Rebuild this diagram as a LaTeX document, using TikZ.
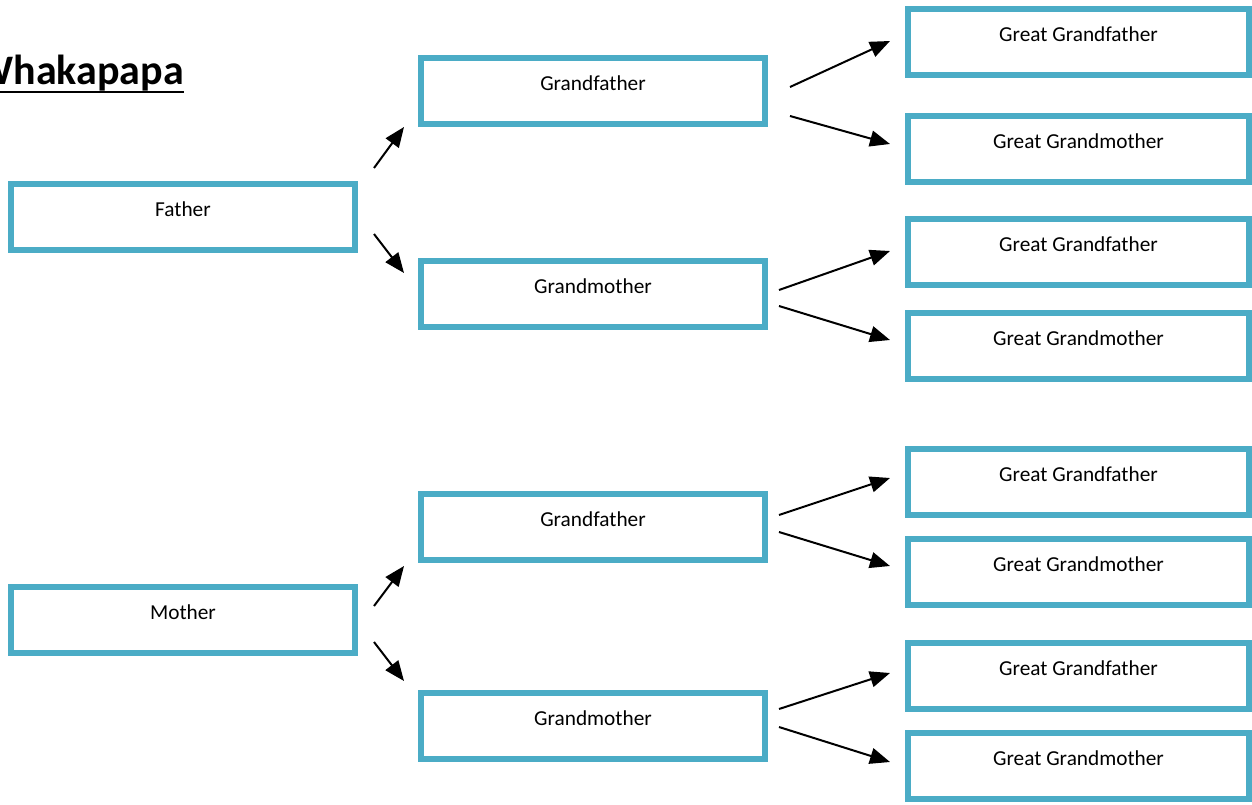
\documentclass[tikz,border=0pt]{standalone}
\usepackage{fontspec}
\setmainfont{Carlito}
\usetikzlibrary{arrows.meta}
\definecolor{boxblue}{RGB}{75,172,198}
\tikzset{
  famsmall/.style={draw=boxblue, line width=6pt, minimum width=344pt, minimum height=66pt, inner sep=0pt},
  famgreat/.style={draw=boxblue, line width=6pt, minimum width=341pt, minimum height=66pt, inner sep=0pt},
  txt/.style={font=\fontsize{21.3}{25}\selectfont, inner sep=0pt},
  link/.style={line width=2pt, -{Triangle[length=20pt,width=16pt]}},
}
\begin{document}
\begin{tikzpicture}[x=1pt,y=-1pt]
\useasboundingbox (0,0) rectangle (1252,805);
\clip (0,0) rectangle (1252,805);
% title
\node[anchor=base east, inner sep=0pt, font=\bfseries\fontsize{42}{48}\selectfont] (title) at (184,85) {Whakapapa};
\draw[line width=2pt] ([yshift=-7.5pt]title.base west) -- ([yshift=-7.5pt]title.base east);
% generation 1
\node[famsmall, label={[txt,yshift=7.5pt]center:Father}] (father) at (183,217) {};
\node[famsmall, label={[txt,yshift=7.5pt]center:Mother}] (mother) at (183,620) {};
% generation 2
\node[famsmall, label={[txt,yshift=7.5pt]center:Grandfather}] (gf1) at (593,91) {};
\node[famsmall, label={[txt,yshift=7.5pt]center:Grandmother}] (gm1) at (593,294) {};
\node[famsmall, label={[txt,yshift=7.5pt]center:Grandfather}] (gf2) at (593,527) {};
\node[famsmall, label={[txt,yshift=7.5pt]center:Grandmother}] (gm2) at (593,726) {};
% generation 3
\node[famgreat, label={[txt,yshift=7.5pt]center:Great Grandfather}] (ggf1) at (1078.5,42) {};
\node[famgreat, label={[txt,yshift=7.5pt]center:Great Grandmother}] (ggm1) at (1078.5,149) {};
\node[famgreat, label={[txt,yshift=7.5pt]center:Great Grandfather}] (ggf2) at (1078.5,252) {};
\node[famgreat, label={[txt,yshift=7.5pt]center:Great Grandmother}] (ggm2) at (1078.5,346) {};
\node[famgreat, label={[txt,yshift=7.5pt]center:Great Grandfather}] (ggf3) at (1078.5,482) {};
\node[famgreat, label={[txt,yshift=7.5pt]center:Great Grandmother}] (ggm3) at (1078.5,572) {};
\node[famgreat, label={[txt,yshift=7.5pt]center:Great Grandfather}] (ggf4) at (1078.5,676) {};
\node[famgreat, label={[txt,yshift=7.5pt]center:Great Grandmother}] (ggm4) at (1078.5,766) {};
% connector end points
\coordinate (f1s) at (374,168); \coordinate (f1e) at (404,127);
\coordinate (f2s) at (374,234); \coordinate (f2e) at (404,273);
\coordinate (m1s) at (374,606); \coordinate (m1e) at (404,566);
\coordinate (m2s) at (374,642); \coordinate (m2e) at (404,681);
\coordinate (a1s) at (790,87);  \coordinate (a1e) at (890,41);
\coordinate (a2s) at (790,116); \coordinate (a2e) at (890,144);
\coordinate (b1s) at (779,290); \coordinate (b1e) at (890,251);
\coordinate (b2s) at (779,306); \coordinate (b2e) at (890,340);
\coordinate (c1s) at (779,515); \coordinate (c1e) at (890,478);
\coordinate (c2s) at (779,532); \coordinate (c2e) at (890,566);
\coordinate (d1s) at (779,709); \coordinate (d1e) at (890,673);
\coordinate (d2s) at (779,727); \coordinate (d2e) at (890,762);
\foreach \s/\e in {f1s/f1e,f2s/f2e,m1s/m1e,m2s/m2e,a1s/a1e,a2s/a2e,b1s/b1e,b2s/b2e,c1s/c1e,c2s/c2e,d1s/d1e,d2s/d2e}
  \draw[link] (\s) -- (\e);
\end{tikzpicture}
\end{document}
